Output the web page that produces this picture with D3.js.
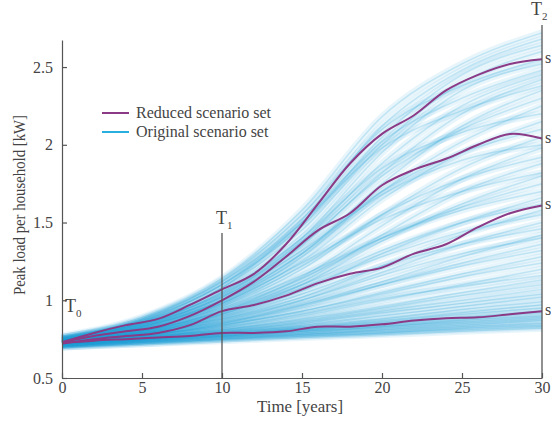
<!DOCTYPE html>
<html>
<head>
<meta charset="utf-8">
<script src="https://cdn.jsdelivr.net/npm/d3@7.9.0/dist/d3.min.js"></script>
<style>
  body { margin: 0; background: #fff; }
  svg { display: block; font-family: "Liberation Serif", "DejaVu Serif", serif; }
  .axis text { font-size: 16px; fill: #444; font-family: "Liberation Serif", serif; }
  .axis path, .axis line { stroke: #555; stroke-width: 1.2; }
</style>
</head>
<body>
<svg id="chart" width="551" height="421"></svg>
<script>
// time grid of the scenario fan (years)
const fanYears = [0, 5, 10, 15, 20, 25, 30];

// original scenario set, peak load [kW] per household at fanYears
const originalScenarios = [
  [0.77, 0.89, 1.14, 1.58, 2.18, 2.52, 2.72],
  [0.76, 0.88, 1.12, 1.52, 2.12, 2.48, 2.68],
  [0.76, 0.87, 1.10, 1.48, 2.05, 2.45, 2.64],
  [0.75, 0.86, 1.08, 1.45, 2.00, 2.40, 2.60],
  [0.76, 0.88, 1.13, 1.55, 2.10, 2.38, 2.55],
  [0.75, 0.85, 1.05, 1.40, 1.95, 2.35, 2.52],
  [0.75, 0.86, 1.08, 1.50, 2.02, 2.30, 2.48],
  [0.75, 0.85, 1.04, 1.38, 1.88, 2.25, 2.45],
  [0.74, 0.84, 1.02, 1.35, 1.82, 2.20, 2.42],
  [0.76, 0.87, 1.10, 1.50, 1.98, 2.22, 2.38],
  [0.74, 0.83, 1.00, 1.30, 1.75, 2.12, 2.35],
  [0.75, 0.84, 1.03, 1.36, 1.80, 2.10, 2.30],
  [0.74, 0.83, 0.99, 1.28, 1.70, 2.02, 2.25],
  [0.75, 0.85, 1.05, 1.40, 1.85, 2.08, 2.20],
  [0.74, 0.82, 0.98, 1.25, 1.65, 1.95, 2.15],
  [0.74, 0.83, 1.00, 1.30, 1.70, 1.95, 2.10],
  [0.73, 0.81, 0.96, 1.20, 1.55, 1.85, 2.05],
  [0.75, 0.84, 1.02, 1.32, 1.68, 1.90, 2.00],
  [0.73, 0.80, 0.94, 1.15, 1.48, 1.78, 1.98],
  [0.74, 0.82, 0.97, 1.22, 1.55, 1.78, 1.92],
  [0.73, 0.80, 0.93, 1.12, 1.42, 1.70, 1.88],
  [0.74, 0.83, 0.98, 1.24, 1.52, 1.70, 1.82],
  [0.73, 0.79, 0.91, 1.10, 1.38, 1.62, 1.80],
  [0.73, 0.80, 0.93, 1.14, 1.40, 1.60, 1.75],
  [0.74, 0.81, 0.95, 1.16, 1.40, 1.58, 1.70],
  [0.73, 0.79, 0.90, 1.06, 1.30, 1.50, 1.66],
  [0.73, 0.80, 0.92, 1.10, 1.32, 1.50, 1.62],
  [0.72, 0.78, 0.88, 1.02, 1.22, 1.42, 1.58],
  [0.73, 0.80, 0.91, 1.08, 1.28, 1.44, 1.55],
  [0.72, 0.78, 0.87, 1.00, 1.18, 1.36, 1.50],
  [0.73, 0.79, 0.89, 1.04, 1.22, 1.36, 1.46],
  [0.72, 0.77, 0.85, 0.97, 1.12, 1.28, 1.42],
  [0.73, 0.79, 0.88, 1.00, 1.16, 1.30, 1.40],
  [0.72, 0.77, 0.85, 0.96, 1.10, 1.24, 1.36],
  [0.73, 0.78, 0.86, 0.97, 1.10, 1.22, 1.32],
  [0.72, 0.77, 0.84, 0.93, 1.05, 1.17, 1.28],
  [0.72, 0.77, 0.84, 0.93, 1.04, 1.15, 1.24],
  [0.72, 0.76, 0.82, 0.90, 1.00, 1.10, 1.20],
  [0.73, 0.77, 0.83, 0.91, 1.01, 1.09, 1.16],
  [0.72, 0.76, 0.81, 0.88, 0.96, 1.05, 1.13],
  [0.72, 0.76, 0.81, 0.87, 0.95, 1.03, 1.10],
  [0.71, 0.75, 0.80, 0.86, 0.93, 1.00, 1.07],
  [0.72, 0.76, 0.80, 0.85, 0.92, 0.98, 1.04],
  [0.72, 0.75, 0.79, 0.84, 0.90, 0.96, 1.02],
  [0.71, 0.75, 0.79, 0.83, 0.88, 0.94, 0.99],
  [0.72, 0.75, 0.78, 0.82, 0.87, 0.92, 0.97],
  [0.71, 0.74, 0.78, 0.82, 0.86, 0.91, 0.95],
  [0.72, 0.75, 0.78, 0.81, 0.85, 0.89, 0.93],
  [0.71, 0.74, 0.77, 0.81, 0.84, 0.88, 0.92],
  [0.72, 0.74, 0.77, 0.80, 0.83, 0.87, 0.90],
  [0.71, 0.74, 0.77, 0.80, 0.83, 0.86, 0.89],
  [0.71, 0.73, 0.76, 0.79, 0.82, 0.85, 0.88],
  [0.70, 0.73, 0.76, 0.78, 0.81, 0.84, 0.87],
  [0.71, 0.73, 0.75, 0.78, 0.80, 0.83, 0.85],
  [0.70, 0.72, 0.75, 0.77, 0.79, 0.82, 0.84],
  [0.71, 0.73, 0.75, 0.77, 0.79, 0.81, 0.83],
  [0.70, 0.72, 0.74, 0.76, 0.78, 0.80, 0.82]
];

// reduced scenario set, sampled every 2 years
const reducedYears = [0, 2, 4, 6, 8, 10, 12, 14, 16, 18, 20, 22, 24, 26, 28, 30];
const reducedScenarios = [
  [0.73, 0.79, 0.84, 0.88, 0.97, 1.07, 1.17, 1.36, 1.62, 1.88, 2.07, 2.19, 2.35, 2.45, 2.52, 2.55],
  [0.73, 0.77, 0.80, 0.83, 0.90, 1.00, 1.12, 1.28, 1.45, 1.56, 1.74, 1.84, 1.91, 2.00, 2.07, 2.04],
  [0.72, 0.75, 0.77, 0.79, 0.84, 0.93, 0.97, 1.03, 1.11, 1.17, 1.21, 1.30, 1.36, 1.47, 1.56, 1.61],
  [0.725, 0.74, 0.75, 0.76, 0.77, 0.79, 0.79, 0.80, 0.83, 0.83, 0.845, 0.87, 0.885, 0.89, 0.91, 0.93]
];
const endLabels = ['s', 's', 's', 's'];

const xTicks = [0, 5, 10, 15, 20, 25, 30];
const yTicks = [0.5, 1, 1.5, 2, 2.5];
const legendItems = ['Reduced scenario set', 'Original scenario set'];

const purple = '#8b3a86';
const blue = '#1f9fd5';
const ink = '#444';
const serif = '"Liberation Serif", "DejaVu Serif", serif';

const svg = d3.select('#chart');

const x = d3.scaleLinear().domain([0, 30]).range([62, 542]);
const y = d3.scaleLinear().domain([0.5, 2.674]).range([378, 40]);

// scenario fan: wide, faint strokes so they blend into a haze
const fanLine = d3.line()
  .x((d, i) => x(fanYears[i]))
  .y(d => y(d))
  .curve(d3.curveMonotoneX);

const fan = svg.append('g');
fan.selectAll('path.wide')
  .data(originalScenarios)
  .join('path')
  .attr('class', 'wide')
  .attr('d', fanLine)
  .attr('fill', 'none')
  .attr('stroke', blue)
  .attr('stroke-width', 7)
  .attr('stroke-opacity', 0.1);
fan.selectAll('path.thin')
  .data(originalScenarios)
  .join('path')
  .attr('class', 'thin')
  .attr('d', fanLine)
  .attr('fill', 'none')
  .attr('stroke', blue)
  .attr('stroke-width', 1.5)
  .attr('stroke-opacity', 0.2);

// reduced set
const redLine = d3.line()
  .x((d, i) => x(reducedYears[i]))
  .y(d => y(d))
  .curve(d3.curveCatmullRom);

svg.append('g')
  .selectAll('path')
  .data(reducedScenarios)
  .join('path')
  .attr('d', redLine)
  .attr('fill', 'none')
  .attr('stroke', purple)
  .attr('stroke-width', 2);

// axes
svg.append('g')
  .attr('class', 'axis')
  .attr('transform', 'translate(0,378)')
  .call(d3.axisBottom(x).tickValues(xTicks).tickSize(-5).tickSizeOuter(0).tickPadding(4))
  .attr('font-family', serif).attr('font-size', 16)
  .call(g => g.selectAll('text').attr('fill', ink));

svg.append('g')
  .attr('class', 'axis')
  .attr('transform', 'translate(62,0)')
  .call(d3.axisLeft(y).tickValues(yTicks).tickSize(-5).tickSizeOuter(0).tickPadding(9)
    .tickFormat(d3.format('')))
  .attr('font-family', serif).attr('font-size', 16)
  .call(g => g.selectAll('text').attr('fill', ink));

svg.append('text')
  .attr('x', x(15) - 2).attr('y', 412)
  .attr('text-anchor', 'middle')
  .attr('font-size', 16).attr('fill', ink)
  .attr('textLength', 86).attr('lengthAdjust', 'spacingAndGlyphs')
  .text('Time [years]');

svg.append('text')
  .attr('transform', 'translate(25,205) rotate(-90)')
  .attr('text-anchor', 'middle')
  .attr('font-size', 16).attr('fill', ink)
  .attr('textLength', 180).attr('lengthAdjust', 'spacingAndGlyphs')
  .text('Peak load per household [kW]');

// time markers T1, T2
const markers = [
  { t: 10, top: 233 },
  { t: 30, top: 25 }
];
svg.append('g')
  .selectAll('line')
  .data(markers)
  .join('line')
  .attr('x1', d => x(d.t)).attr('x2', d => x(d.t))
  .attr('y1', d => d.top).attr('y2', 378)
  .attr('stroke', '#555').attr('stroke-width', 1.3);

function tLabel(px, py, sub) {
  const t = svg.append('text').attr('x', px).attr('y', py)
    .attr('font-size', 18).attr('fill', ink);
  t.append('tspan').text('T');
  t.append('tspan').attr('dy', 5).attr('font-size', 11).text(sub);
}
tLabel(65, 312, '0');
tLabel(x(10) - 6, 224, '1');
tLabel(x(30) - 11, 15, '2');

// end labels of the reduced set
svg.append('g')
  .selectAll('text')
  .data(reducedScenarios)
  .join('text')
  .attr('x', 545)
  .attr('y', d => y(d[d.length - 1]) + 4)
  .attr('font-size', 16).attr('fill', ink)
  .text((d, i) => endLabels[i]);

// legend
const legend = svg.append('g').attr('transform', 'translate(102,113)');
legendItems.forEach((label, i) => {
  const g = legend.append('g').attr('transform', `translate(0,${i * 19})`);
  g.append('line').attr('x1', 0).attr('x2', 27)
    .attr('stroke', i === 0 ? purple : '#29aee0').attr('stroke-width', 2);
  g.append('text').attr('x', 34).attr('y', 5)
    .attr('font-size', 16).attr('fill', ink).text(label);
});
</script>
</body>
</html>
